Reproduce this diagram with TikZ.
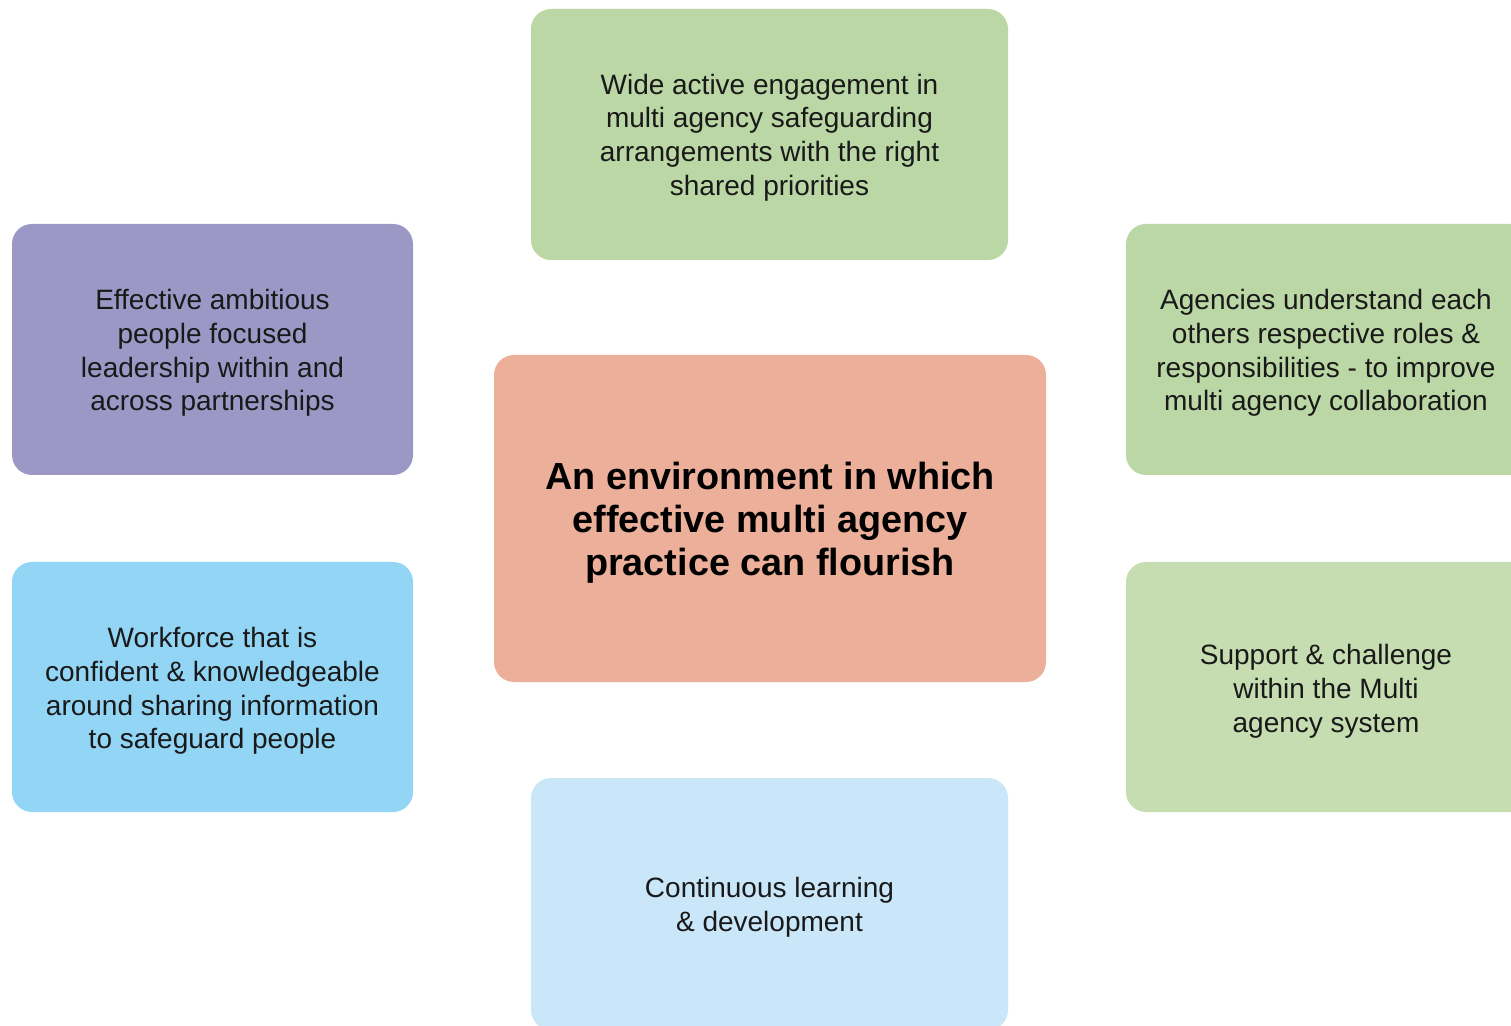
\documentclass[tikz,border=0pt]{standalone}
\usepackage{fontspec}
\setmainfont{Liberation Sans}
\definecolor{cgreen}{HTML}{BBD7A5}
\definecolor{cgreenl}{HTML}{C5DDB0}
\definecolor{cpurple}{HTML}{9B98C6}
\definecolor{csalmon}{HTML}{ECB09A}
\definecolor{cblue}{HTML}{93D5F5}
\definecolor{cblueL}{HTML}{C9E7F9}
\begin{document}
\begin{tikzpicture}[x=0.5pt,y=-0.5pt,
  card/.style={rounded corners=10pt, draw=none, align=center, inner sep=0pt,
    font=\fontsize{14}{16.9}\selectfont, text=black!90},
  hub/.style={card, font=\bfseries\fontsize{18.9}{21.6}\selectfont, text=black}]
\useasboundingbox (0,0) rectangle (1511,1026);
\fill[white] (0,0) rectangle (1511,1026);
\clip (0,0) rectangle (1511,1026);
\path[card, fill=cgreen] (531,9) rectangle (1008,260);
\node[card] (top) at (769.5,137.5) {Wide active engagement in\\multi agency safeguarding\\arrangements with the right\\shared priorities};
\path[card, fill=cpurple] (12,224) rectangle (413,475);
\node[card] (lt) at (212.5,353) {Effective ambitious\\people focused\\leadership within and\\across partnerships};
\path[card, fill=cgreen] (1126,224) rectangle (1530,475);
\node[card] (rt) at (1326,353) {Agencies understand each\\others respective roles \&\\responsibilities - to improve\\multi agency collaboration};
\path[card, fill=csalmon] (494,355) rectangle (1046,682);
\node[hub] (hub) at (770,523) {An environment in which\\effective multi agency\\practice can flourish};
\path[card, fill=cblue] (12,562) rectangle (413,812);
\node[card] (lb) at (212.5,691) {Workforce that is\\confident \& knowledgeable\\around sharing information\\to safeguard people};
\path[card, fill=cgreenl] (1126,562) rectangle (1530,812);
\node[card] (rb) at (1326,691) {Support \& challenge\\within the Multi\\agency system};
\path[card, fill=cblueL] (531,778) rectangle (1008,1030);
\node[card] (bot) at (769.5,907) {Continuous learning\\\& development};
\end{tikzpicture}
\end{document}
